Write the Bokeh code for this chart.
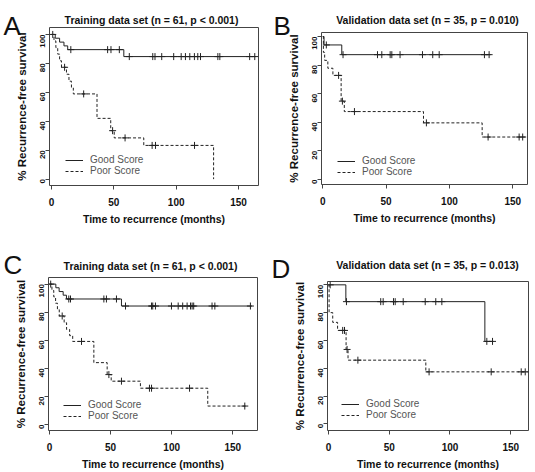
from bokeh.plotting import figure
from bokeh.models import Label, Legend, LegendItem, FixedTicker, Range1d
from bokeh.layouts import column, row
from bokeh.embed import file_html
from bokeh.resources import INLINE
import math

# ---------------- data ----------------
x_ticks = [0, 50, 100, 150]
y_ticks = [0, 20, 40, 60, 80, 100]
series_names = ["Good Score", "Poor Score"]

titles = ["Training data set (n = 61, p < 0.001)",
          "Validation data set (n = 35, p = 0.010)",
          "Training data set (n = 61, p < 0.001)",
          "Validation data set (n = 35, p = 0.013)"]
letters = ["A", "B", "C", "D"]

# Panel A
a_good_t = [3, 6.5, 10, 13, 58]
a_good_s = [97.4, 94.7, 92.1, 89.5, 84.7]
a_good_c = [1, 15.5, 45, 47.7, 54.4, 62.4, 81.2, 83, 88.4, 98, 104, 107.4, 110.9,
            114.6, 117.3, 119.5, 133.4, 135, 158.9, 163]
a_good_end = 164
a_poor_t = [2, 3.5, 5, 6.5, 8, 12, 14, 16, 17.5, 36.5, 47.5, 50.3, 74, 130]
a_poor_s = [95.5, 90.9, 86.4, 81.8, 77.3, 72.5, 67.7, 63.0, 58.9, 42.0, 33.5, 28.5, 23.3, 0]
a_poor_c = [10.5, 25.8, 49, 59, 80.7, 83.4, 114.7]
a_poor_end = 130

# Panel B
b_good_t = [1, 15]
b_good_s = [94.1, 87.3]
b_good_c = [2.8, 16, 43.2, 46.6, 53.2, 54.5, 61, 78.7, 86.8, 91.9, 127.6, 131.3]
b_good_end = 132.5
b_poor_t = [0.5, 1.5, 4, 8, 14.5, 17, 79.5, 125.8]
b_poor_s = [88.9, 83.3, 77.8, 72.8, 54.8, 47.5, 39.6, 29.7]
b_poor_c = [12.5, 15.5, 25, 81.8, 130.5, 155, 157.8]
b_poor_end = 160

# Panel C
c_good_t = [5.2, 7.9, 11.2, 13.9, 58.9]
c_good_s = [97.4, 94.7, 92.1, 89.4, 84.4]
c_good_c = [1, 15.8, 17.2, 44.5, 46.6, 54.8, 62.2, 83.5, 84.5, 86.7, 99.8, 105.3, 109,
            112.6, 115.4, 116.7, 118, 133, 135.3, 164.4]
c_good_end = 165.8
c_poor_t = [2, 3.5, 5, 6.5, 8, 12, 14, 16.5, 19, 36.3, 47.2, 50.5, 74.4, 129.5]
c_poor_s = [95.5, 90.9, 86.4, 81.8, 77.3, 72.5, 67.7, 63.3, 59.2, 44.1, 35.6, 30.9, 25.9, 13.2]
c_poor_c = [10.4, 26.2, 48.6, 58.9, 81.8, 83.5, 114.6, 159.8]
c_poor_end = 161.7

# Panel D
d_good_t = [14.3, 128.7]
d_good_s = [87.9, 59.3]
d_good_c = [1.4, 14.8, 43, 45, 53.5, 54.9, 61.5, 79.6, 88.3, 93.3, 130.3, 135]
d_good_end = 135.8
d_poor_t = [0.5, 3.5, 7.5, 14.5, 16.1, 80.1]
d_poor_s = [80.0, 73.0, 67.2, 53.5, 45.8, 37.4]
d_poor_c = [11.7, 13.2, 15.3, 24.2, 82.8, 133.9, 158.6, 161.9]
d_poor_end = 164

# ---------------- helpers ----------------
FONT = "Liberation Sans"
LINE = "#222222"
PAGE_W, PAGE_H = 535, 472


def km_path(times, surv, end):
    xs, ys = [0], [100]
    cur = 100
    for t, s in zip(times, surv):
        xs += [t, t]
        ys += [cur, s]
        cur = s
    xs.append(end)
    ys.append(cur)
    return xs, ys


def km_value(times, surv, c):
    v = 100
    for t, s in zip(times, surv):
        if t <= c:
            v = s
    return v


def panel(geom, good, poor):
    fx0, fy0, fw, fh = geom["fig"]
    L, T, R, B = geom["frame"]
    xr, yr = geom["xr"], geom["yr"]
    p = figure(width=fw, height=fh, output_backend="svg", toolbar_location=None,
               x_range=Range1d(*xr), y_range=Range1d(*yr),
               min_border_left=L - fx0, min_border_right=fx0 + fw - R,
               min_border_top=T - fy0, min_border_bottom=fy0 + fh - B)
    p.xgrid.visible = False
    p.ygrid.visible = False
    p.background_fill_color = "white"
    p.border_fill_color = "white"
    p.outline_line_color = "#444444"
    p.outline_line_width = 1

    for ax in (p.xaxis[0], p.yaxis[0]):
        ax.axis_line_color = None
        ax.major_tick_line_color = "#444444"
        ax.major_tick_in = 0
        ax.major_tick_out = 4
        ax.minor_tick_line_color = None
        ax.major_label_text_font = FONT
        ax.major_label_text_font_style = "bold"
        ax.major_label_text_color = "#111111"
        ax.axis_label_text_font = FONT
        ax.axis_label_text_font_style = "bold"
        ax.axis_label_text_color = "#111111"
    p.xaxis.ticker = FixedTicker(ticks=x_ticks)
    p.yaxis.ticker = FixedTicker(ticks=y_ticks)
    p.xaxis.major_label_text_font_size = "10px"
    p.yaxis.major_label_text_font_size = "8px"
    p.yaxis.major_label_orientation = math.pi / 2
    p.xaxis.major_label_standoff = 8
    p.yaxis.major_label_standoff = 3
    p.xaxis.axis_label = "Time to recurrence (months)"
    p.yaxis.axis_label = "% Recurrence-free survival"
    p.xaxis.axis_label_text_font_size = "10.5px"
    p.yaxis.axis_label_text_font_size = "11.5px"
    p.xaxis.axis_label_standoff = 4
    p.yaxis.axis_label_standoff = 7

    gx, gy = km_path(*good)
    px_, py_ = km_path(*poor)
    r_good = p.line(gx, gy, line_color=LINE, line_width=1)
    r_poor = p.line(px_, py_, line_color=LINE, line_width=1, line_dash="3 2")
    for (t, s, end), cens in ((good, geom["gc"]), (poor, geom["pc"])):
        cy = [km_value(t, s, c) for c in cens]
        p.scatter(cens, cy, marker="cross", size=7, line_color=LINE, line_width=1)

    legend = Legend(items=[LegendItem(label=series_names[0], renderers=[r_good]),
                           LegendItem(label=series_names[1], renderers=[r_poor])],
                    location=geom["leg"], orientation="vertical",
                    border_line_color=None, background_fill_alpha=0,
                    padding=0, margin=0, spacing=0, glyph_width=18, glyph_height=10,
                    label_height=10, label_standoff=7,
                    label_text_font=FONT, label_text_font_size="10px",
                    label_text_color="#555555")
    p.add_layout(legend, "center")
    return p


geoms = [
    dict(fig=(0, 0, 268, 236), frame=(49, 27, 258, 185), xr=(-1.6, 166.0), yr=(-4.4, 104.8),
         gc=a_good_c, pc=a_poor_c, leg=(16, 9), title_at=(151, 19), letter_at=(3, 25)),
    dict(fig=(268, 0, 267, 236), frame=(321, 32, 527, 184), xr=(-1.0, 161.6), yr=(-3.5, 102.8),
         gc=b_good_c, pc=b_poor_c, leg=(16, 7), title_at=(427, 19), letter_at=(273, 25)),
    dict(fig=(0, 236, 268, 236), frame=(48, 277, 257, 431), xr=(-0.8, 170.2), yr=(-4.2, 104.7),
         gc=c_good_c, pc=c_poor_c, leg=(15, 9), title_at=(150, 265), letter_at=(3, 264)),
    dict(fig=(268, 236, 267, 236), frame=(327, 281, 528, 431), xr=(-0.8, 164.6), yr=(-4.8, 102.4),
         gc=d_good_c, pc=d_poor_c, leg=(14, 10), title_at=(427, 264), letter_at=(271, 268)),
]

goods = [(a_good_t, a_good_s, a_good_end), (b_good_t, b_good_s, b_good_end),
         (c_good_t, c_good_s, c_good_end), (d_good_t, d_good_s, d_good_end)]
poors = [(a_poor_t, a_poor_s, a_poor_end), (b_poor_t, b_poor_s, b_poor_end),
         (c_poor_t, c_poor_s, c_poor_end), (d_poor_t, d_poor_s, d_poor_end)]

figs = [panel(g, gd, pr) for g, gd, pr in zip(geoms, goods, poors)]

# transparent overlay carrying the panel letters and titles (page pixel coordinates),
# pulled up over the grid with a negative top margin
ov = figure(width=PAGE_W, height=PAGE_H, output_backend="svg", toolbar_location=None,
            x_range=Range1d(0, PAGE_W), y_range=Range1d(PAGE_H, 0),
            x_axis_type=None, y_axis_type=None,
            min_border=0, min_border_left=0, min_border_right=0,
            min_border_top=0, min_border_bottom=0, margin=(-PAGE_H, 0, 0, 0))
ov.xgrid.visible = False
ov.ygrid.visible = False
ov.outline_line_color = None
ov.background_fill_alpha = 0
ov.border_fill_alpha = 0
for g, t, l in zip(geoms, titles, letters):
    ov.add_layout(Label(x=g["title_at"][0], y=g["title_at"][1], text=t,
                        text_align="center", text_baseline="middle",
                        text_font=FONT, text_font_style="bold", text_font_size="10.5px",
                        text_color="#111111"))
    ov.add_layout(Label(x=g["letter_at"][0], y=g["letter_at"][1], text=l,
                        text_align="left", text_baseline="alphabetic",
                        text_font=FONT, text_font_size="26px", text_color="#111111"))

# each panel wrapped in its own column so that frames are not aligned across a row
layout = column(row(column(figs[0]), column(figs[1])),
                row(column(figs[2]), column(figs[3])), ov)

open("out.html", "w").write(file_html(layout, INLINE))
